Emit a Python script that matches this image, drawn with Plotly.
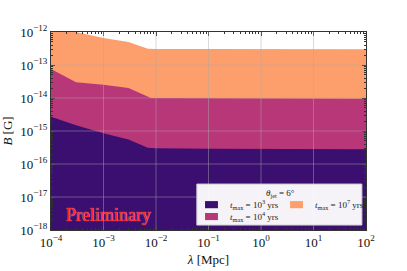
import plotly.graph_objects as go

# ---- data ----
lam_1e7 = [1e-4, 3e-4, 1e-3, 3e-3, 7e-3, 1e-2, 1e-1, 1, 10, 100]
B_1e7 = [1e-12, 1e-12, 6.6e-13, 5e-13, 3.1e-13, 3.05e-13, 3.05e-13, 3.05e-13, 3.05e-13, 3.0e-13]

lam_1e4 = [1e-4, 3e-4, 1e-3, 3e-3, 8e-3, 1e-2, 1e-1, 1, 10, 100]
B_1e4 = [7.6e-14, 3.0e-14, 2.5e-14, 2.0e-14, 1.0e-14, 1.0e-14, 9.8e-15, 9.7e-15, 9.6e-15, 9.5e-15]

lam_1e3 = [1e-4, 3e-4, 1e-3, 3e-3, 7e-3, 1e-2, 1e-1, 1, 10, 100]
B_1e3 = [2.7e-15, 1.5e-15, 8.5e-16, 5.5e-16, 3.1e-16, 3.0e-16, 2.9e-16, 2.9e-16, 2.85e-16, 2.8e-16]

series_names = ["t_max = 10^7 yrs", "t_max = 10^4 yrs", "t_max = 10^3 yrs"]
series_colors = ["#fd9f6c", "#b73779", "#3b0f70"]

x_tickvals = [1e-4, 1e-3, 1e-2, 1e-1, 1, 10, 100]
x_ticktext = ["10<sup>−4</sup>", "10<sup>−3</sup>", "10<sup>−2</sup>", "10<sup>−1</sup>",
              "10<sup>0</sup>", "10<sup>1</sup>", "10<sup>2</sup>"]
y_tickvals = [1e-18, 1e-17, 1e-16, 1e-15, 1e-14, 1e-13, 1e-12]
y_ticktext = ["10<sup>−18</sup>", "10<sup>−17</sup>", "10<sup>−16</sup>", "10<sup>−15</sup>",
              "10<sup>−14</sup>", "10<sup>−13</sup>", "10<sup>−12</sup>"]

minor_mult = [2, 3, 4, 5, 6, 7, 8, 9]
x_minor = [d * m for d in x_tickvals[:-1] for m in minor_mult]
y_minor = [d * m for d in y_tickvals[:-1] for m in minor_mult]

FLOOR = 1e-19
SERIF = "Liberation Serif, Times New Roman, serif"

fig = go.Figure()
for xs, ys, col, name in [(lam_1e7, B_1e7, series_colors[0], series_names[0]),
                          (lam_1e4, B_1e4, series_colors[1], series_names[1]),
                          (lam_1e3, B_1e3, series_colors[2], series_names[2])]:
    px = list(xs) + [xs[-1], xs[0]]
    py = list(ys) + [FLOOR, FLOOR]
    fig.add_trace(go.Scatter(x=px, y=py, fill="toself", fillcolor=col, mode="lines",
                             line=dict(width=0, color=col), name=name, showlegend=False,
                             hoverinfo="skip"))

# grid lines drawn above fills (matplotlib style)
grid_col = "rgba(170,170,170,0.45)"
for xv in x_tickvals[1:-1]:
    fig.add_shape(type="line", xref="x", yref="y domain", x0=xv, x1=xv, y0=0, y1=1,
                  line=dict(color=grid_col, width=1), layer="above")
for yv in y_tickvals[1:-1]:
    fig.add_shape(type="line", xref="x domain", yref="y", x0=0, x1=1, y0=yv, y1=yv,
                  line=dict(color=grid_col, width=1), layer="above")

# legend box (manual, matplotlib-like)
fig.add_shape(type="rect", xref="x domain", yref="y domain", x0=0.463, x1=0.987, y0=0.025, y1=0.232,
              line=dict(color="#d0d0d0", width=1), fillcolor="rgba(255,255,255,0.95)", layer="above")
fig.add_annotation(xref="x domain", yref="y domain", x=0.727, y=0.185, xanchor="center",
                   yanchor="middle", text="<i>θ</i><sub>jet</sub> = 6°", showarrow=False,
                   font=dict(family=SERIF, size=9, color="#222"))
leg_items = [
    (0.489, 0.530, 0.128, series_colors[2], "<i>t</i><sub>max</sub> = 10<sup>3</sup> yrs", 0.562),
    (0.489, 0.530, 0.068, series_colors[1], "<i>t</i><sub>max</sub> = 10<sup>4</sup> yrs", 0.562),
    (0.759, 0.800, 0.128, series_colors[0], "<i>t</i><sub>max</sub> = 10<sup>7</sup> yrs", 0.832),
]
for x0, x1, yc, col, txt, tx in leg_items:
    fig.add_shape(type="rect", xref="x domain", yref="y domain", x0=x0, x1=x1,
                  y0=yc - 0.018, y1=yc + 0.018, line=dict(width=0), fillcolor=col, layer="above")
    fig.add_annotation(xref="x domain", yref="y domain", x=tx, y=yc, xanchor="left",
                       yanchor="middle", text=txt, showarrow=False,
                       font=dict(family=SERIF, size=9, color="#222"))

fig.add_annotation(xref="x domain", yref="y domain", x=0.181, y=0.078, xanchor="center",
                   yanchor="middle", text="Preliminary", showarrow=False,
                   font=dict(family=SERIF, size=18, color="#ff2020",
                             shadow="0px 0px 1px #ffe0e0"))

axis_common = dict(type="log", showgrid=False, zeroline=False, showline=True, linecolor="#333",
                   linewidth=1, mirror="allticks", ticks="inside", ticklen=4, tickcolor="#333",
                   layer="above traces", automargin=False,
                   tickfont=dict(family=SERIF, size=13, color="#111"))

fig.update_xaxes(range=[-4, 2], tickvals=x_tickvals, ticktext=x_ticktext,
                 minor=dict(tickmode="array", tickvals=x_minor, ticks="inside", ticklen=2,
                            tickcolor="#333", showgrid=False),
                 title=dict(text="<i>λ</i> [Mpc]", font=dict(family=SERIF, size=13, color="#111"),
                            standoff=6),
                 **axis_common)
fig.update_yaxes(range=[-18, -12], tickvals=y_tickvals, ticktext=y_ticktext,
                 minor=dict(tickmode="array", tickvals=y_minor, ticks="inside", ticklen=2,
                            tickcolor="#333", showgrid=False),
                 title=dict(text="<i>B</i> [G]", font=dict(family=SERIF, size=13, color="#111"),
                            standoff=4),
                 **axis_common)

fig.update_layout(width=407, height=271, margin=dict(l=51, r=41, t=32, b=41),
                  plot_bgcolor="white", paper_bgcolor="white", showlegend=False)

fig.write_html("out.html", config={"displayModeBar": False},
               post_script="document.body.style.margin='0';document.body.style.overflow='hidden';")
